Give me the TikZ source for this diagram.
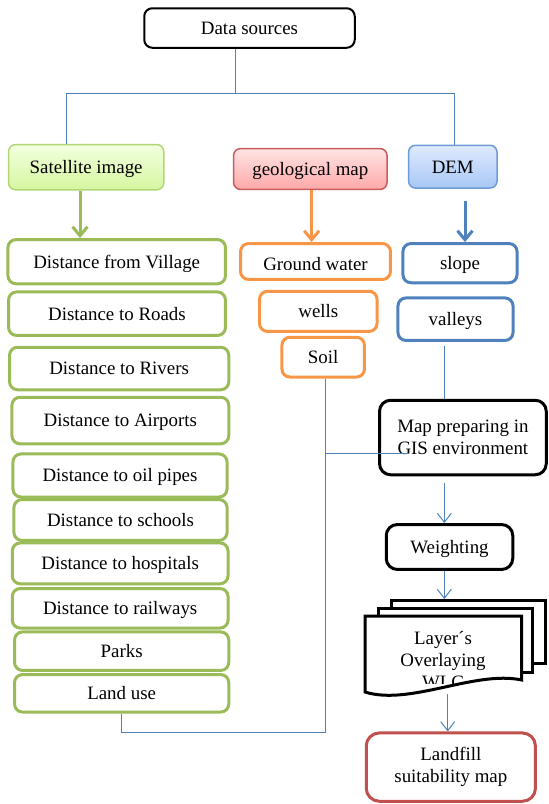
\documentclass[tikz,border=0pt]{standalone}
\usepackage{fontspec}
\setmainfont{Liberation Serif}
\usetikzlibrary{arrows.meta}
\definecolor{gr}{RGB}{155,187,89}
\definecolor{og}{RGB}{247,150,70}
\definecolor{bl}{RGB}{79,129,189}
\definecolor{rd}{RGB}{192,80,77}
\definecolor{ln}{RGB}{79,129,189}
\definecolor{satdraw}{RGB}{178,214,118}
\definecolor{sattop}{RGB}{242,255,222}
\definecolor{satbot}{RGB}{214,246,160}
\definecolor{geodraw}{RGB}{200,92,92}
\definecolor{geotop}{RGB}{255,228,228}
\definecolor{geobot}{RGB}{255,168,168}
\definecolor{demdraw}{RGB}{110,155,215}
\definecolor{demtop}{RGB}{222,234,255}
\definecolor{dembot}{RGB}{168,199,245}
\tikzset{
  every node/.style={font=\fontsize{18.9}{21.5}\selectfont, inner sep=0pt, align=center},
  tb/.style={text height=12.8pt, text depth=0pt},
  base/.style={draw, rounded corners=8pt, line width=3pt, fill=white},
  gbox/.style={base, draw=gr, tb},
  obox/.style={base, draw=og, tb},
  bbox/.style={base, draw=bl, tb},
  kbox/.style={base, draw=black, rounded corners=11pt},
  dsbox/.style={base, draw=black, line width=2pt, rounded corners=8pt, tb},
  rbox/.style={base, draw=rd, rounded corners=13pt},
  satbox/.style={draw=satdraw, line width=1.5pt, rounded corners=7pt, top color=sattop, bottom color=satbot, tb},
  geobox/.style={draw=geodraw, line width=1.5pt, rounded corners=7pt, top color=geotop, bottom color=geobot, tb},
  dembox/.style={draw=demdraw, line width=1.5pt, rounded corners=7pt, top color=demtop, bottom color=dembot, tb},
  conn/.style={draw=ln, line width=1pt},
  carrow/.style={conn, -{Straight Barb[length=9pt,width=14pt]}},
  bigarrow/.style={line width=3pt, -{Straight Barb[length=9pt,width=15pt]}},
  docshape/.style={draw=black, line width=3pt, fill=white, sharp corners},
}
\newcommand\bx[7]{\node[#1, minimum width={#5-#3-2.5}, minimum height={#6-#4-2.5}] (#2) at ({(#3+#5)/2},{(#4+#6)/2}) {#7};}
\begin{document}
\begin{tikzpicture}[x=1pt,y=-1pt]
\useasboundingbox (0,0) rectangle (549,804);
% top
\bx{dsbox}{ds}{143}{7}{356}{49}{Data sources}
\bx{satbox}{sat}{7.3}{143.3}{165}{191}{Satellite image}
\bx{geobox}{geo}{232.3}{147.3}{388.3}{190.7}{geological map}
\bx{dembox}{dem}{407.3}{144}{498.3}{189.3}{DEM}
% green column
\bx{gbox}{vil}{6.7}{238.3}{226.7}{285}{Distance from Village}
\bx{gbox}{roads}{7.3}{290.7}{226.7}{336.7}{Distance to Roads}
\bx{gbox}{rivers}{8.3}{346}{230}{391}{Distance to Rivers}
\bx{gbox}{air}{10.7}{396}{230}{445}{Distance to Airports}
\bx{gbox}{oil}{11.7}{452.7}{228.3}{498.3}{Distance to oil pipes}
\bx{gbox}{school}{12.7}{498.3}{228.3}{541.7}{Distance to schools}
\bx{gbox}{hosp}{11}{541.7}{229.3}{585}{Distance to hospitals}
\bx{gbox}{rail}{11}{587.3}{229.3}{629.3}{Distance to railways}
\bx{gbox}{parks}{13.3}{630.7}{230}{671.7}{Parks}
\bx{gbox}{landuse}{13.3}{673.3}{230}{713.3}{Land use}
% orange column
\bx{obox}{gw}{239.3}{242.3}{391.7}{280.7}{}
\begin{scope}
  \clip (240,240) rectangle (391,269.2);
  \node[tb] (gwtext) at (315.5,263.8) {Ground water};
\end{scope}
\bx{obox}{wells}{258.3}{290}{378.3}{332.7}{wells}
\bx{obox}{soil}{280.7}{336}{365.7}{378.3}{Soil}
% blue column
\bx{bbox}{slope}{401.7}{242.3}{518.3}{284}{slope}
\bx{bbox}{valleys}{396.7}{296.7}{514.3}{341.7}{valleys}
% process
\bx{kbox}{map}{378.3}{399}{547.5}{476}{Map preparing in\\GIS environment}
\bx{kbox,tb}{wt}{385}{523.3}{514}{570.7}{Weighting}
\bx{rbox}{lf}{365}{731.7}{536.7}{802.5}{Landfill\\suitability map}
% multidocument
\bx{docshape}{back}{390}{599.3}{546.7}{665}{}
\bx{docshape}{mid}{377.3}{607.7}{533.3}{673.3}{}
\draw[docshape] (365,616) coordinate (ftl) -- (521.7,616) -- (521.7,680)
  .. controls (475,670) and (410,706) .. (365,692) -- cycle;
\begin{scope}
  \clip (367,618) rectangle (520,683.5);
  \node[font=\fontsize{18.9}{22}\selectfont] (lay) at (443,660) {Layer´s\\Overlaying\\WLC};
\end{scope}
% connectors from data sources
\coordinate (h1) at (66.7,93);
\coordinate (h2) at (454.3,93);
\coordinate (hm) at (235.5,93);
\draw[conn] (ds.south -| hm) -- (hm);
\draw[conn] (sat.north -| h1) -- (h1) -- (h2) -- (dem.north -| h2);
% big arrows
\coordinate (gx) at (80,0);
\coordinate (ox) at (311.7,0);
\coordinate (bx) at (465,0);
\draw[bigarrow, draw=gr] (sat.south -| gx) -- (vil.north -| gx);
\draw[bigarrow, draw=og] (geo.south -| ox) -- (gw.north -| ox);
\draw[bigarrow, draw=bl, shorten <=12pt] (dem.south -| bx) -- (slope.north -| bx);
% valleys / process chain
\coordinate (vx) at (444.3,0);
\draw[conn, shorten <=4pt] (valleys.south -| vx) -- (map.north -| vx);
\draw[carrow, shorten <=7pt] (map.south -| vx) -- (wt.north -| vx);
\draw[carrow] (wt.south -| vx) -- (back.north -| vx);
\coordinate (dl) at (447.7,694);
\draw[carrow] (dl) -- (lf.north -| dl);
% soil / land use line
\coordinate (sx) at (325.7,732.3);
\coordinate (lx) at (121,732.3);
\coordinate (me) at (408.3,453.3);
\draw[conn] (soil.south -| sx) -- (sx) -- (lx) -- (landuse.south -| lx);
\draw[conn] (me -| sx) -- (me);
\end{tikzpicture}
\end{document}
